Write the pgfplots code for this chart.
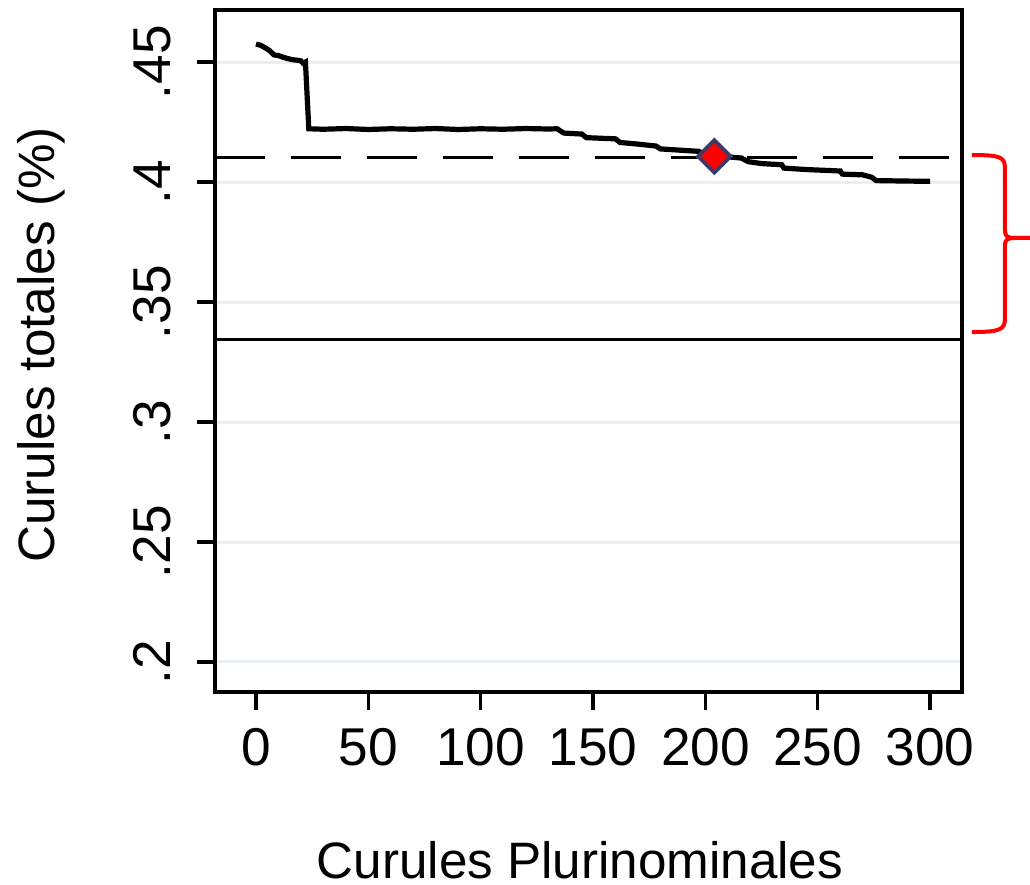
\documentclass[border=0pt]{standalone}
\usepackage{pgfplots}
\pgfplotsset{compat=1.18}
\usepackage{fontspec}
\setmainfont{Liberation Sans}
\definecolor{gridc}{RGB}{232,240,243}
\definecolor{mkedge}{RGB}{58,60,104}
\begin{document}
\fontsize{13.3}{16}\selectfont
\begin{tikzpicture}
\begin{axis}[
    scale only axis,
    width=186.75pt,
    height=170.5pt,
    xmin=-18.25, xmax=314.2,
    ymin=0.1875, ymax=0.4717,
    axis line style={line width=0.9pt},
    xtick={0,50,...,300},
    ytick={0.2,0.25,0.3,0.35,0.4,0.45},
    yticklabels={.2,.25,.3,.35,.4,.45},
    xtick pos=left, ytick pos=left,
    tick align=outside,
    major tick length=4.5pt,
    tick style={line width=0.85pt, black},
    ymajorgrids=true,
    grid style={gridc, line width=0.75pt},
    /pgf/number format/assume math mode=true,
    ticklabel style={font=\fontsize{13.3}{16}\selectfont},
    yticklabel style={rotate=90, anchor=south, inner ysep=6.4pt},
    xlabel={Curules Plurinominales},
    ylabel={Curules totales (\%)},
    label style={font=\fontsize{12.8}{15}\selectfont},
    xlabel style={at={(axis description cs:0.4886,-0.2463)}, anchor=center},
    ylabel style={at={(axis description cs:-0.2329,0.509)}, anchor=center},
    clip=false,
]

% simulated share of seats
\addplot[black, line width=1.3pt] coordinates {
  (0,.4575)(2,.4570)(4,.4560)(6,.4548)(8,.4530)(10,.4527)(12,.4520)
  (14,.4515)(16,.4510)(18,.4508)(20,.4505)(21,.4495)(22,.4500)
  (23.5,.4222)(30,.4220)(40,.4223)(50,.4219)(60,.4222)(70,.4220)
  (80,.4223)(90,.4219)(100,.4222)(110,.4220)(120,.4223)(130,.4221)
  (134,.4222)(137,.4204)(145,.4200)(147,.4185)(160,.4180)(162,.4165)
  (170,.4158)(178,.4150)(180,.4138)(190,.4132)(197,.4128)(199,.4117)
  (204,.4112)(210,.4105)(216,.4100)(219,.4085)(225,.4077)(234,.4072)
  (235,.4058)(245,.4052)(250,.4050)(260,.4046)(261,.4033)(270,.4030)
  (274,.4020)(276,.4006)(290,.4004)(300,.4003)
};

% reference lines
\addplot[black, line width=0.85pt, dash pattern=on 12.5pt off 6.5pt]
  coordinates {(-18.25,0.4102)(314.2,0.4102)};
\addplot[black, line width=0.85pt]
  coordinates {(-18.25,0.3344)(314.2,0.3344)};

% chosen point
\addplot[only marks, mark=square*, mark size=2.9pt,
  mark options={rotate=45, fill=red, draw=mkedge, line width=0.9pt}]
  coordinates {(204,0.4107)};

% brace
\draw[red, line width=1pt, line join=round]
  (axis cs:318.6,0.41125) .. controls (axis cs:331,0.41125) and (axis cs:333.3,0.4105) .. (axis cs:333.3,0.4060)
  -- (axis cs:333.3,0.3800) .. controls (axis cs:333.3,0.3772) and (axis cs:334.5,0.3767) .. (axis cs:338,0.3767)
  -- (axis cs:344.5,0.3767);
\draw[red, line width=1pt, line join=round]
  (axis cs:338,0.3767) .. controls (axis cs:334.5,0.3767) and (axis cs:333.3,0.3762) .. (axis cs:333.3,0.3734)
  -- (axis cs:333.3,0.3430) .. controls (axis cs:333.3,0.3385) and (axis cs:331,0.3375) .. (axis cs:318.6,0.3375);
\end{axis}
\pgfresetboundingbox
\path (current axis.south west) ++(-53.75pt,-48.25pt) rectangle ++(257.5pt,221.25pt);
\end{tikzpicture}
\end{document}
